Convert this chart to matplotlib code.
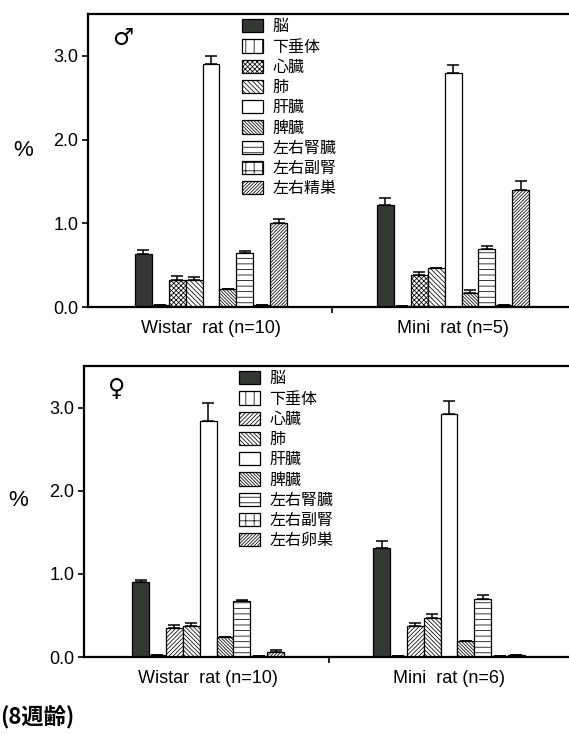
import matplotlib.pyplot as plt
import numpy as np

plt.rcParams['font.family'] = ['Liberation Sans', 'Noto Sans CJK JP', 'DejaVu Sans']
plt.rcParams['hatch.linewidth'] = 0.55

groups_m = ['Wistar  rat (n=10)', 'Mini  rat (n=5)']
groups_f = ['Wistar  rat (n=10)', 'Mini  rat (n=6)']
organs_m = ['脳', '下垂体', '心臓', '肺', '肝臓', '脾臓', '左右腎臓', '左右副腎', '左右精巣']
organs_f = ['脳', '下垂体', '心臓', '肺', '肝臓', '脾臓', '左右腎臓', '左右副腎', '左右卵巣']

# % of body weight, rows = organs, cols = [Wistar, Mini]
male_mean = [[0.63, 1.22], [0.02, 0.01], [0.32, 0.38], [0.32, 0.47], [2.90, 2.79],
             [0.22, 0.17], [0.64, 0.69], [0.02, 0.02], [1.00, 1.40]]
male_err = [[0.05, 0.08], [0.0, 0.0], [0.05, 0.04], [0.04, 0.0], [0.10, 0.10],
            [0.0, 0.03], [0.03, 0.04], [0.0, 0.0], [0.05, 0.10]]
female_mean = [[0.90, 1.31], [0.03, 0.01], [0.35, 0.37], [0.37, 0.47], [2.84, 2.92],
               [0.24, 0.19], [0.67, 0.70], [0.01, 0.01], [0.06, 0.02]]
female_err = [[0.03, 0.08], [0.0, 0.0], [0.04, 0.04], [0.04, 0.05], [0.22, 0.16],
              [0.0, 0.0], [0.02, 0.05], [0.0, 0.0], [0.02, 0.0]]

dark = '#333833'
styles_m = [(dark, ''), ('white', '||'), ('white', 'x' * 7), ('white', '\\' * 7),
            ('white', ''), ('white', '\\' * 10), ('white', '---'), ('white', '++'),
            ('white', '/' * 10)]
styles_f = [(dark, ''), ('white', '||'), ('white', '/' * 8), ('white', '\\' * 8),
            ('white', ''), ('white', '\\' * 10), ('white', '---'), ('white', '++'),
            ('white', '/' * 10)]

fig = plt.figure(figsize=(5.69, 7.34), dpi=100)
ax1 = fig.add_axes([0.1547, 0.5817, 0.8453, 0.3992])
ax2 = fig.add_axes([0.1476, 0.1049, 0.8524, 0.3965])


def panel(ax, means, errs, styles, organs, groups, symbol, xlim):
    x = np.arange(len(groups))
    w = 0.07
    n = len(organs)
    for i in range(n):
        pos = x + (i - (n - 1) / 2) * w
        fc, h = styles[i]
        ax.bar(pos, means[i], w, color=fc, hatch=h, edgecolor='black',
               linewidth=0.9, label=organs[i], zorder=2)
        e = np.array(errs[i])
        ax.errorbar(pos, means[i], yerr=[np.zeros_like(e), e], fmt='none',
                    ecolor='black', elinewidth=1.1, capsize=4, capthick=1.1, zorder=3)
    ax.set_xlim(*xlim)
    ax.set_ylim(0, 3.5)
    ax.set_yticks([0, 1, 2, 3], ['0.0', '1.0', '2.0', '3.0'])
    ax.set_xticks(x, groups)
    ax.set_xticks([0.5], minor=True)
    ax.tick_params(axis='x', which='major', length=0, pad=9, labelsize=13)
    ax.tick_params(axis='x', which='minor', length=4, width=1.2)
    ax.tick_params(axis='y', length=4, width=1.2, labelsize=13, pad=3)
    ax.spines['right'].set_visible(False)
    for s in ['left', 'top', 'bottom']:
        ax.spines[s].set_linewidth(1.6)
    ax.set_ylabel('%', rotation=0, fontsize=16)
    ax.yaxis.set_label_coords(-0.135, 0.5)
    ax.text(0.05, 0.92, symbol, transform=ax.transAxes, fontsize=17,
            family=['DejaVu Sans'], ha='left', va='center')
    ax.legend(loc='upper left', bbox_to_anchor=(0.3, 1.015), frameon=False,
              fontsize=11.5, handlelength=1.3, handleheight=0.9,
              labelspacing=0.32, handletextpad=0.6, borderaxespad=0.2)


panel(ax1, male_mean, male_err, styles_m, organs_m, groups_m, '♂', (-0.508, 1.479))
panel(ax2, female_mean, female_err, styles_f, organs_f, groups_f, '♀', (-0.515, 1.498))

fig.text(0.0, 0.022, '(8週齢)', fontsize=16, ha='left', va='center',
         family=['Noto Sans CJK JP'], fontweight='bold')

fig.savefig('out.png', dpi=100)
